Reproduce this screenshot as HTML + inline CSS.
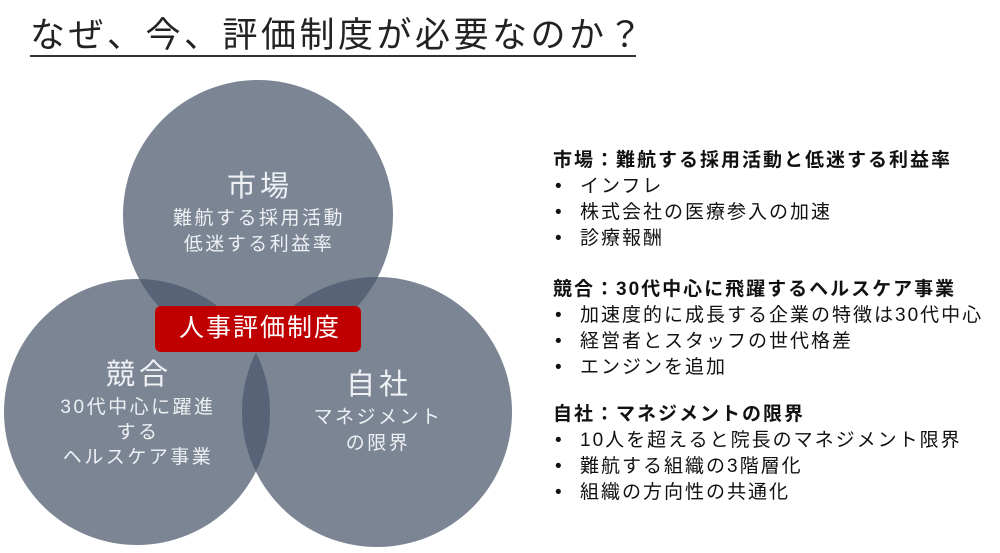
<!DOCTYPE html>
<html><head><meta charset="utf-8"><style>
body{margin:0;width:1000px;height:553px;background:#fff;position:relative;overflow:hidden;font-family:"Liberation Sans","Noto Sans CJK JP",sans-serif;}
.t{position:absolute;white-space:nowrap;}
.c{position:absolute;text-align:center;color:#eef0f3;white-space:nowrap;transform:translateX(-50%);}
.r{position:absolute;left:553px;font-size:19px;line-height:26px;color:#111;letter-spacing:2px;}
.r b{display:block;font-weight:bold;}
.r div{padding-left:27px;position:relative;}
.r div:before{content:"•";position:absolute;left:2px;}
</style></head><body>
<div class="t" style="left:30px;top:14px;font-size:35px;color:#222;line-height:44px;letter-spacing:3.5px;">なぜ、今、評価制度が必要なのか？</div>
<div style="position:absolute;left:30px;top:55px;width:606px;height:2px;background:#333;"></div>
<svg style="position:absolute;left:0;top:0" width="1000" height="553">
<g fill="rgba(74,88,108,0.73)">
<circle cx="258" cy="215" r="135"/>
<circle cx="137" cy="412" r="133"/>
<circle cx="377" cy="412" r="135"/>
</g>
<rect x="155" y="306" width="206" height="46" rx="6" fill="#c00000"/>
</svg>
<div class="c" style="left:260px;top:168px;font-size:29px;line-height:38px;letter-spacing:4px;">市場</div>
<div class="c" style="left:259px;top:206px;font-size:19px;line-height:26px;letter-spacing:2.5px;">難航する採用活動<br>低迷する利益率</div>
<div class="t" style="left:157px;top:310px;width:206px;text-align:center;font-size:25px;line-height:36px;color:#fff;letter-spacing:2px;">人事評価制度</div>
<div class="c" style="left:139px;top:356px;font-size:29px;line-height:38px;letter-spacing:4px;">競合</div>
<div class="c" style="left:138px;top:395px;font-size:19px;line-height:25px;letter-spacing:2.5px;">30代中心に躍進<br>する<br>ヘルスケア事業</div>
<div class="c" style="left:379px;top:366px;font-size:29px;line-height:38px;letter-spacing:4px;">自社</div>
<div class="c" style="left:378px;top:405px;font-size:19px;line-height:26px;letter-spacing:2.5px;">マネジメント<br>の限界</div>
<div class="r" style="top:148px;"><b>市場：難航する採用活動と低迷する利益率</b><div>インフレ</div><div>株式会社の医療参入の加速</div><div>診療報酬</div></div>
<div class="r" style="top:277px;"><b>競合：30代中心に飛躍するヘルスケア事業</b><div>加速度的に成長する企業の特徴は30代中心</div><div>経営者とスタッフの世代格差</div><div>エンジンを追加</div></div>
<div class="r" style="top:402px;"><b>自社：マネジメントの限界</b><div>10人を超えると院長のマネジメント限界</div><div>難航する組織の3階層化</div><div>組織の方向性の共通化</div></div>
</body></html>
